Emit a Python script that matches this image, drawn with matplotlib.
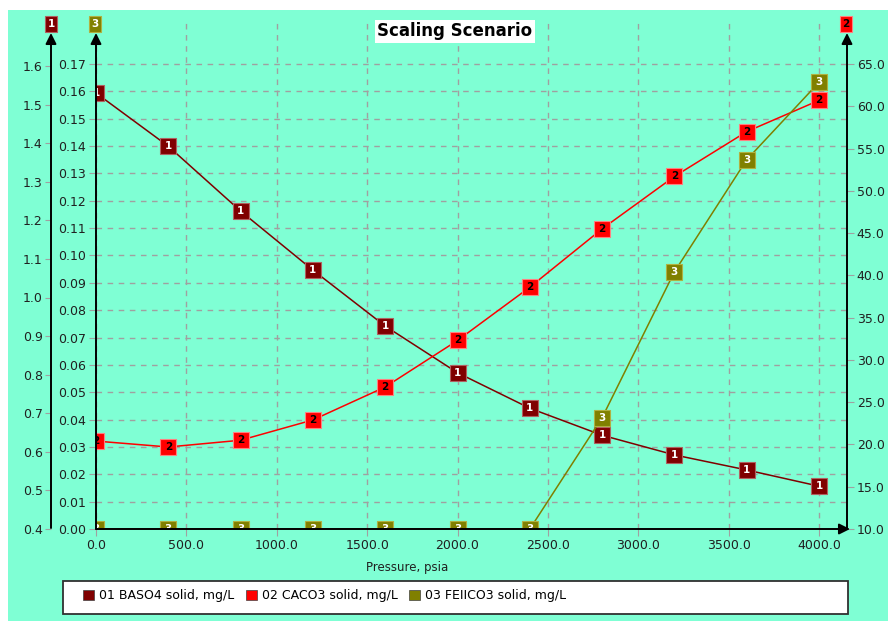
import matplotlib
matplotlib.use('Agg')
import matplotlib.pyplot as plt
from matplotlib.patches import FancyArrowPatch, Rectangle, Patch
from matplotlib.ticker import FormatStrFormatter

# pressure steps, psia
pressure = [0, 400, 800, 1200, 1600, 2000, 2400, 2800, 3200, 3600, 4000]

# solids per scenario step, mg/L
baso4 = [1.530, 1.392, 1.224, 1.071, 0.926, 0.805, 0.713, 0.643, 0.592, 0.553, 0.511]
caco3 = [20.4, 19.7, 20.5, 22.9, 26.8, 32.3, 38.6, 45.5, 51.7, 57.0, 60.7]
feiico3 = [0.0, 0.0, 0.0, 0.0, 0.0, 0.0, 0.0, 0.0407, 0.094, 0.135, 0.1633]

names = ['01 BASO4 solid, mg/L', '02 CACO3 solid, mg/L', '03 FEIICO3 solid, mg/L']
colors = ['#800000', '#ff0000', '#808000']
edges = ['#b06060', '#ff8080', '#b0b040']
numcolors = ['white', 'black', 'white']

BG = '#7fffd4'
GRID = '#a0a0a0'

W, H = 888, 621
def fx(px):
    return px / W
def fy(py):
    return 1 - py / H

fig = plt.figure(figsize=(W / 100, H / 100), dpi=100)
fig.patch.set_facecolor('white')
fig.add_artist(Rectangle((fx(8), 0), 1 - fx(8), fy(10), transform=fig.transFigure,
                         facecolor=BG, edgecolor='none', zorder=0))

left, right, bottom, top = 96, 847, 529, 22
ax = fig.add_axes([fx(left), fy(bottom), fx(right - left), (bottom - top) / H])
ax.patch.set_visible(False)
ax1 = ax.twinx()   # outer left scale (BASO4)
ax2 = ax.twinx()   # right scale (CACO3)
ax3 = ax.twinx()   # inner left scale (FEIICO3), drawn last

# limits so the tick ranges end where the grid ends
ax.set_xlim(0, 4000 * (right - left) / (819 - left))
ax.set_ylim(0, 0.17 * (bottom - top) / (bottom - 64))
ax3.set_ylim(ax.get_ylim())
ax1.set_ylim(0.4, 0.4 + 1.2 * (bottom - top) / (bottom - 66))
ax2.set_ylim(10, 10 + 55 * (bottom - top) / (bottom - 64))

for a in (ax, ax1, ax2, ax3):
    for s in a.spines.values():
        s.set_visible(False)

ax.set_xticks([0, 500, 1000, 1500, 2000, 2500, 3000, 3500, 4000])
ax.xaxis.set_major_formatter(FormatStrFormatter('%.1f'))
ax.set_yticks([i / 100 for i in range(18)])
ax.yaxis.set_major_formatter(FormatStrFormatter('%.2f'))
ax.tick_params(axis='both', length=5, color=GRID, pad=2, labelsize=9, labelcolor='#202020')
ax.grid(True, color=GRID, linestyle=(0, (4, 4)), linewidth=1)

ax1.yaxis.set_ticks_position('left')
ax1.spines['left'].set_position(('axes', (51 - left) / (right - left)))
ax1.set_yticks([0.4 + i / 10 for i in range(13)])
ax1.yaxis.set_major_formatter(FormatStrFormatter('%.1f'))
ax1.tick_params(axis='y', length=4, color=GRID, pad=2, labelsize=9, labelcolor='#202020')

ax2.set_yticks(range(10, 70, 5))
ax2.yaxis.set_major_formatter(FormatStrFormatter('%.1f'))
ax2.tick_params(axis='y', length=5, color=GRID, pad=2, labelsize=9, labelcolor='#202020')

ax3.set_yticks([])

# series with numbered square markers
for a, vals, n in ((ax1, baso4, 0), (ax2, caco3, 1), (ax3, feiico3, 2)):
    a.plot(pressure, vals, color=colors[n], lw=1.1, marker='s', markersize=11,
           markerfacecolor=colors[n], markeredgecolor=edges[n], markeredgewidth=0.8)
    for x, y in zip(pressure, vals):
        a.text(x, y, str(n + 1), ha='center', va='center', fontsize=7.5,
               fontweight='bold', color=numcolors[n], clip_on=True)

# axis lines with arrowheads
def arrow(x0, y0, x1, y1):
    fig.add_artist(FancyArrowPatch((fx(x0), fy(y0)), (fx(x1), fy(y1)),
                                   transform=fig.transFigure, arrowstyle='-|>',
                                   mutation_scale=16, lw=1.4, color='black',
                                   shrinkA=0, shrinkB=0, zorder=5))

arrow(51, 528, 51, 33)
arrow(left, bottom, left, 33)
arrow(right, bottom, right, 33)
arrow(left, bottom, right + 3, bottom)

# series tags above the scales
for px, n in ((51, 0), (left - 1, 2), (right - 1, 1)):
    fig.text(fx(px), fy(24), str(n + 1), ha='center', va='center', fontsize=7.5,
             fontweight='bold', color=numcolors[n],
             bbox=dict(boxstyle='square,pad=0.25', facecolor=colors[n], edgecolor=edges[n], lw=0.8))

fig.text(fx(455), fy(31), 'Scaling Scenario', ha='center', va='center', fontsize=12,
         fontweight='bold', color='black',
         bbox=dict(boxstyle='square,pad=0.15', facecolor='white', edgecolor='none'))

fig.text(fx(407), fy(567), 'Pressure, psia', ha='center', va='center', fontsize=8.5,
         color='#202020')

# legend box along the bottom
fig.add_artist(Rectangle((fx(63), fy(614)), fx(848 - 63), (614 - 581) / H,
                         transform=fig.transFigure, facecolor='white',
                         edgecolor='#303030', lw=1.3, zorder=1))
handles = [Patch(facecolor=colors[i], edgecolor='#404040', lw=0.5) for i in range(3)]
leg = fig.legend(handles, names, loc='upper left', bbox_to_anchor=(fx(78), fy(584)),
                 ncol=3, frameon=False, fontsize=9, handlelength=0.9, handleheight=0.9,
                 handletextpad=0.4, columnspacing=0.9, borderaxespad=0)
leg.set_zorder(2)

fig.savefig('out.png', dpi=100)
